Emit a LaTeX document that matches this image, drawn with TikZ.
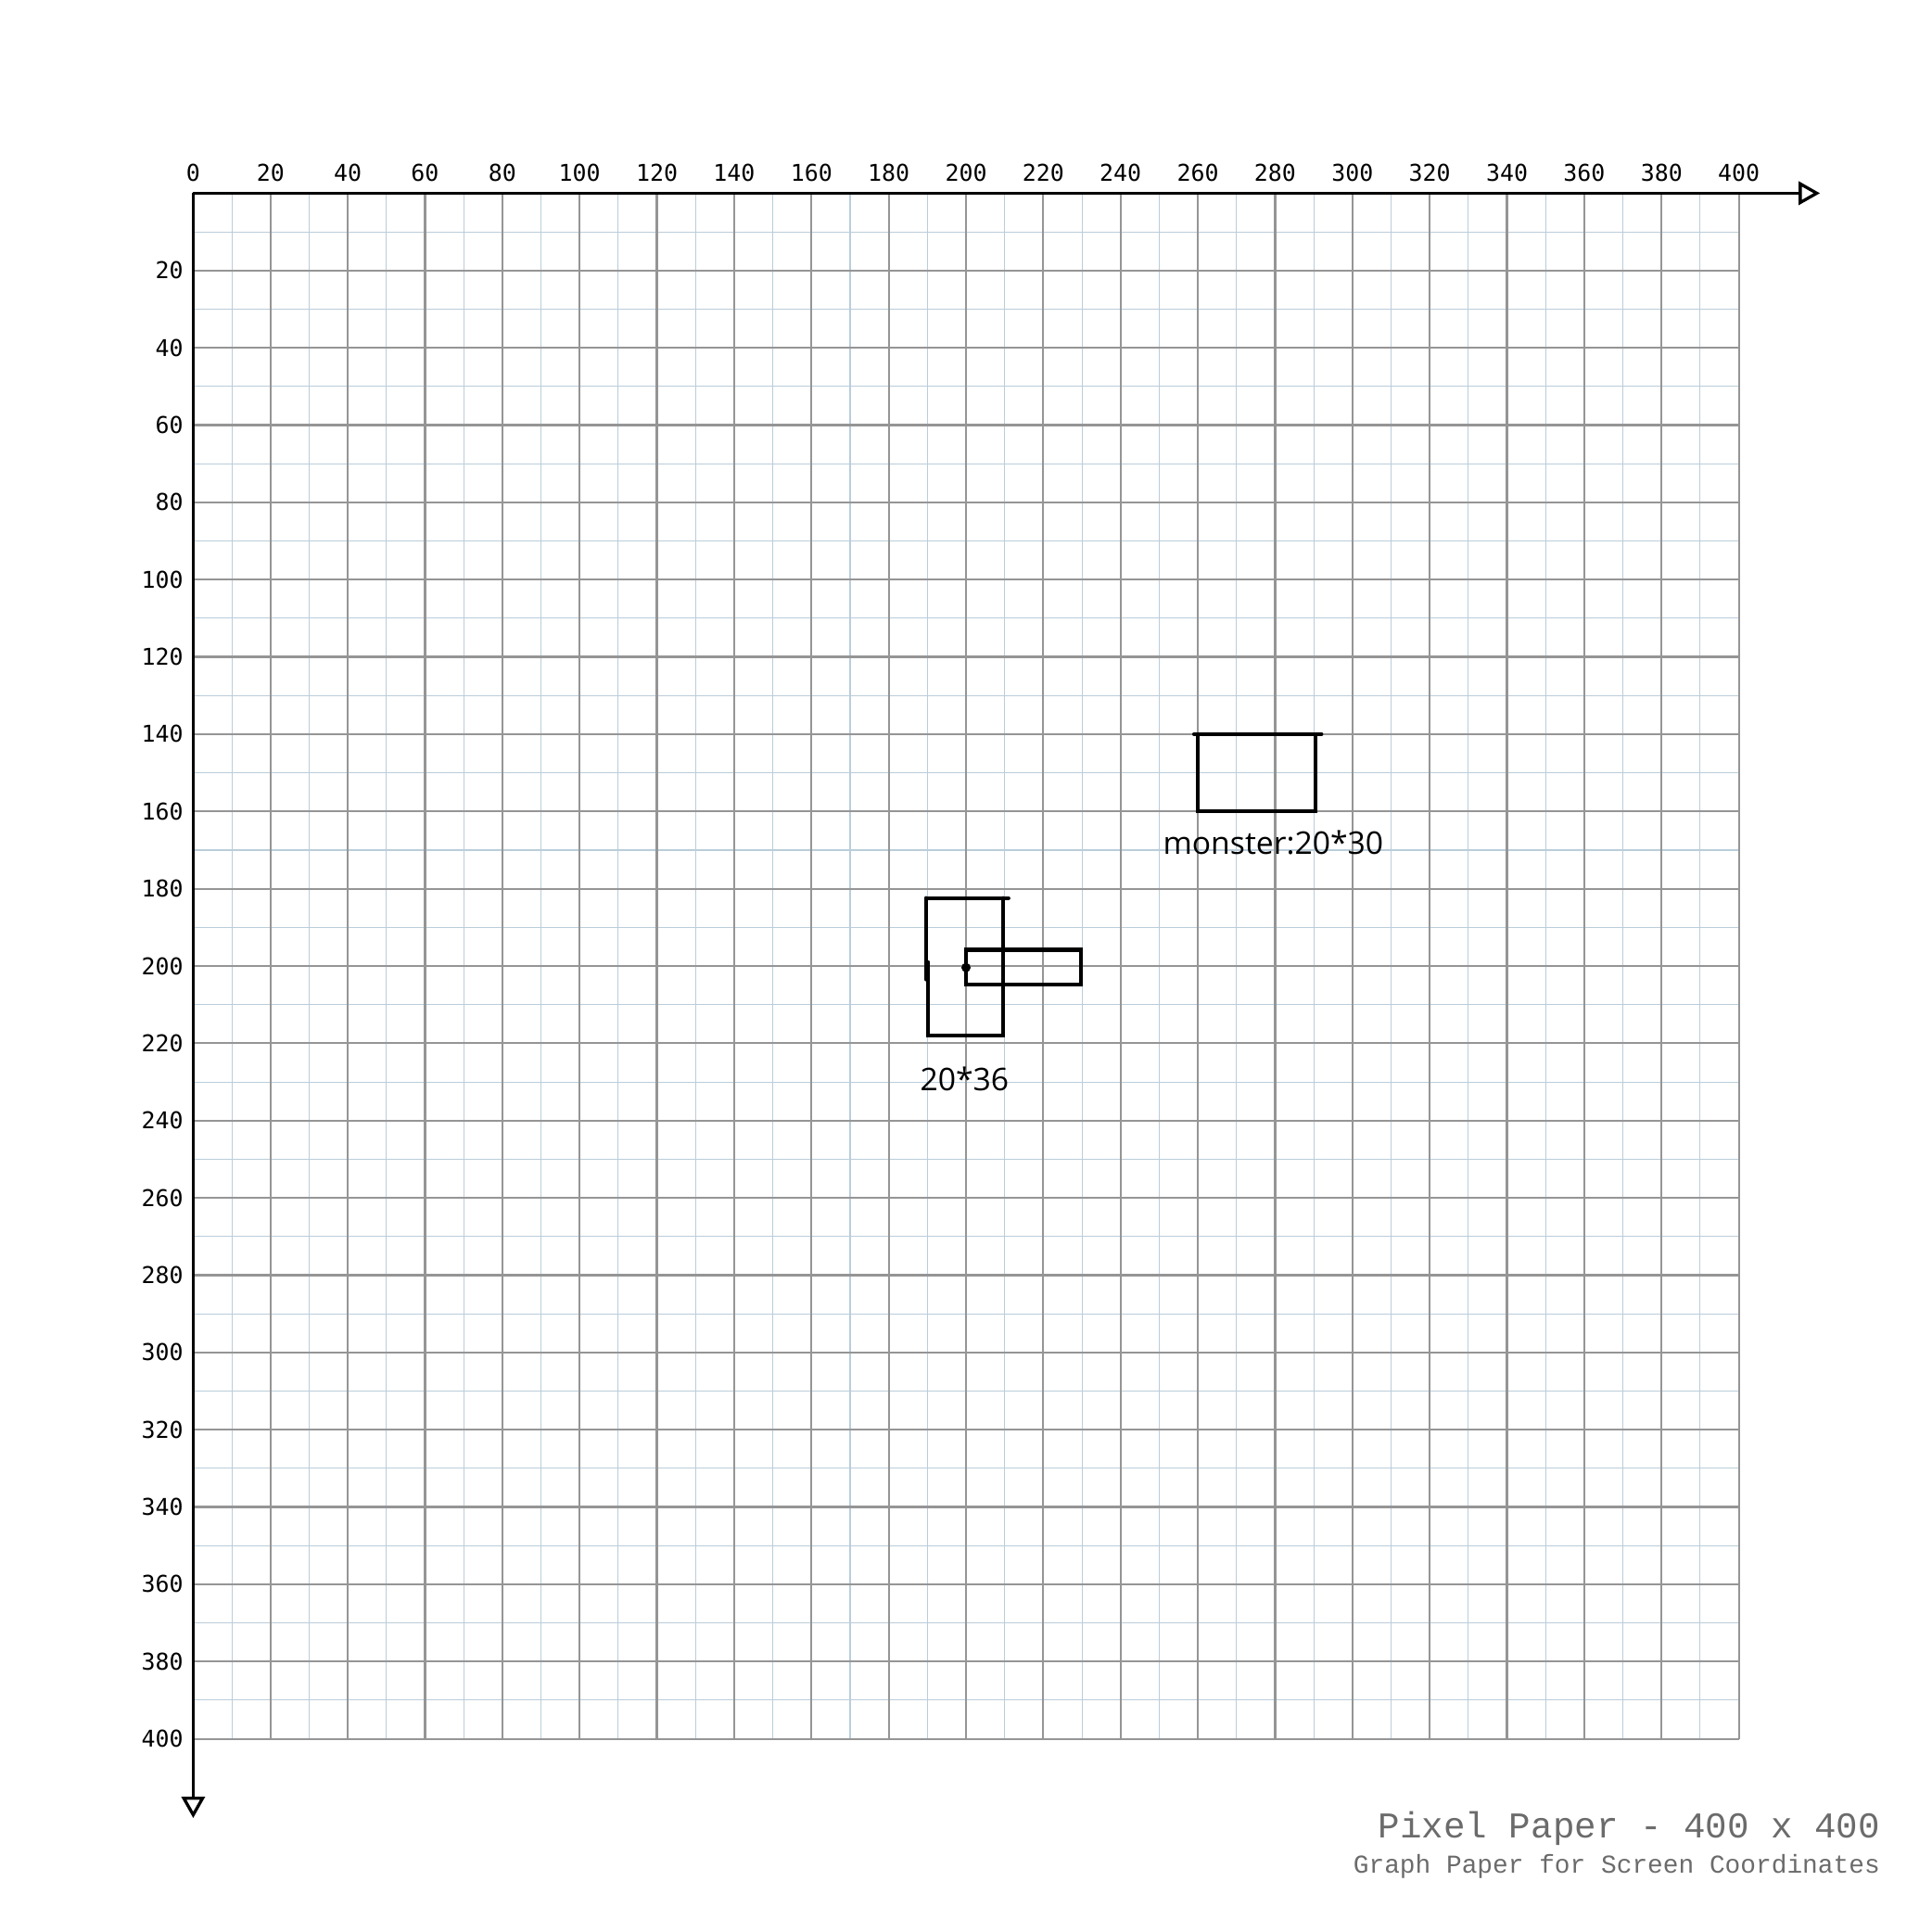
\documentclass[tikz,border=0pt]{standalone}
\usepackage{fontspec}
\newfontfamily\tickfont{DejaVu Sans Mono}
\newfontfamily\paperfont{Liberation Mono}
\newfontfamily\notefont{Open Sans}
\usetikzlibrary{arrows.meta}
\definecolor{cmajor}{HTML}{959595}
\definecolor{cminor}{HTML}{BACDDA}
\definecolor{cfoot}{HTML}{6B6B6B}
\tikzset{
  minorline/.style={draw=cminor, line width=0.3pt},
  majorline/.style={draw=cmajor, line width=0.6pt},
  axis/.style={draw=black, line width=0.9pt, -{Triangle[open, length=2.2mm, width=2.4mm]}},
  tick/.style={font=\tickfont\fontsize{6.8}{8}\selectfont, inner sep=0pt},
  sprite/.style={draw=black, line width=1.1pt, line cap=round},
  note/.style={font=\notefont\fontsize{9.2}{11}\selectfont, inner sep=0pt},
  footer/.style={text=cfoot, inner sep=0pt, anchor=base east},
}

\begin{document}
\begin{tikzpicture}[x=0.04cm, y=-0.04cm]
  \useasboundingbox (-50,-50) rectangle (450,450);
  % fine grid every 10 px, coarse every 20 px
  \foreach \t in {10,30,...,390} {
    \draw[minorline] (\t,0) -- (\t,400);
    \draw[minorline] (0,\t) -- (400,\t);
  }
  \foreach \t in {20,40,...,400} {
    \draw[majorline] (\t,0) -- (\t,400);
    \draw[majorline] (0,\t) -- (400,\t);
    \node[tick, anchor=east] (ly\t) at (-2.4,\t) {\t};
  }
  \foreach \t in {0,20,...,400} \node[tick, anchor=base] (lx\t) at (\t,-3.2) {\t};
  % screen axes
  \coordinate (o) at (0,0);
  \coordinate (xend) at (421,0);
  \coordinate (yend) at (0,420.5);
  \draw[axis] (o) -- (xend);
  \draw[axis] (o) -- (yend);
  % monster box
  \draw[sprite] (259,140) -- (292,140);
  \draw[sprite] (260,140) -- (260,160) -- (290.5,160) -- (290.5,140);
  \node[note] (monster) at (279.5,168) {monster:20*30};
  % player box and gun
  \draw[sprite] (189.7,182.4) -- (211,182.4);
  \draw[sprite] (189.7,182.4) -- (189.7,203.5);
  \draw[sprite] (190.2,199) -- (190.2,218) -- (209.7,218) -- (209.7,182.4);
  \draw[sprite] (200,195.8) rectangle (229.8,204.8);
  \fill (200,200.4) circle (1.2);
  \draw[sprite, line width=0.8pt] (200,200.4) -- (200,197.5);
  \node[note] (player) at (199.6,229.3) {20*36};
  % footer
  \node[footer, font=\paperfont\fontsize{10.7}{12}\selectfont] (title) at (436.7,425.7) {Pixel Paper - 400 x 400};
  \node[footer, font=\paperfont\fontsize{7.6}{9}\selectfont] (subtitle) at (436.7,434.8) {Graph Paper for Screen Coordinates};
\end{tikzpicture}
\end{document}
